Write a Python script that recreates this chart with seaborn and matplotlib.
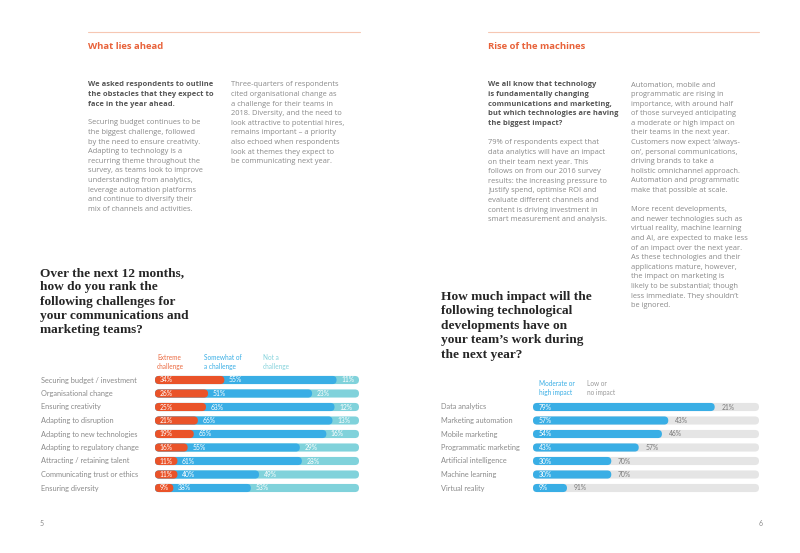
import numpy as np
import pandas as pd
import seaborn as sns
import matplotlib.pyplot as plt
import matplotlib.transforms as mtransforms
from matplotlib.patches import FancyBboxPatch

# ---- data ----
challenges = ["Securing budget / investment", "Organisational change", "Ensuring creativity",
              "Adapting to disruption", "Adapting to new technologies",
              "Adapting to regulatory change", "Attracting / retaining talent",
              "Communicating trust or ethics", "Ensuring diversity"]
extreme = [34, 26, 25, 21, 19, 16, 11, 11, 9]
somewhat = [55, 51, 63, 66, 65, 55, 61, 40, 38]
not_challenge = [11, 23, 12, 13, 16, 29, 28, 49, 53]

technologies = ["Data analytics", "Marketing automation", "Mobile marketing",
                "Programmatic marketing", "Artificial intelligence", "Machine learning",
                "Virtual reality"]
high_impact = [79, 57, 54, 43, 30, 30, 9]
low_impact = [21, 43, 46, 57, 70, 70, 91]

ORANGE = "#EA5329"
BLUE = "#39AEE5"
TEAL = "#80D2DB"
GREY_BAR = "#E5E5E5"
BODY = "#8A8A8A"
DARK = "#555555"
HEAD = "#262626"
TITLE = "#E8623A"

sns.set_theme(style="white")
plt.rcParams["font.family"] = ["Lato", "DejaVu Sans"]
BODY_FONT = ["Open Sans", "DejaVu Sans"]

W, H = 800, 553
fig = plt.figure(figsize=(8, 5.53), dpi=100)
fig.patch.set_facecolor("white")


def put(x, y, s, **kw):
    fig.text(x / W, 1 - y / H, s, va="center", **kw)


def para(x, y, lines, step=9.6, **kw):
    for i, line in enumerate(lines):
        if line:
            put(x, y + i * step, line, **kw)


def round_bars(ax, bar_px, extend_left=False):
    pos = ax.get_position()
    ax_w, ax_h = pos.width * W, pos.height * H
    x0, x1 = ax.get_xlim()
    y0, y1 = ax.get_ylim()
    ux = (x1 - x0) / ax_w
    uy = abs(y1 - y0) / ax_h
    r = bar_px / 2 * ux
    asp = (bar_px / 2 * uy) / r
    for p in list(ax.patches):
        x, y, w, h = p.get_x(), p.get_y(), p.get_width(), p.get_height()
        fc = p.get_facecolor()
        p.remove()
        if extend_left:
            w += x - x0
            x = x0
        ax.add_patch(FancyBboxPatch((x, y), w, h, mutation_aspect=asp,
                                    boxstyle=f"round,pad=0,rounding_size={r}",
                                    fc=fc, ec="none"))


# ---- header rules and section titles ----
for xa, xb in [(88, 360), (488, 759)]:
    fig.add_artist(plt.Line2D([xa / W, xb / W], [1 - 32 / H] * 2, color="#F6C7B3", lw=0.8))
put(88, 47, "What lies ahead", color=TITLE, fontsize=6.8, fontweight="bold", family=BODY_FONT)
put(488, 47, "Rise of the machines", color=TITLE, fontsize=6.8, fontweight="bold", family=BODY_FONT)

fs = 5.4
txt = dict(color=BODY, fontsize=fs, family=BODY_FONT)
bold = dict(color=DARK, fontsize=fs, fontweight="bold", family=BODY_FONT)
para(88, 85, ["We asked respondents to outline",
              "the obstacles that they expect to",
              "face in the year ahead."], **bold)
para(88, 123, ["Securing budget continues to be",
               "the biggest challenge, followed",
               "by the need to ensure creativity.",
               "Adapting to technology is a",
               "recurring theme throughout the",
               "survey, as teams look to improve",
               "understanding from analytics,",
               "leverage automation platforms",
               "and continue to diversify their",
               "mix of channels and activities."], **txt)
para(231, 85, ["Three-quarters of respondents",
               "cited organisational change as",
               "a challenge for their teams in",
               "2018. Diversity, and the need to",
               "look attractive to potential hires,",
               "remains important \u2013 a priority",
               "also echoed when respondents",
               "look at themes they expect to",
               "be communicating next year."], **txt)

para(488, 85, ["We all know that technology",
               "is fundamentally changing",
               "communications and marketing,",
               "but which technologies are having",
               "the biggest impact?"], **bold)
para(488, 143, ["79% of respondents expect that",
                "data analytics will have an impact",
                "on their team next year. This",
                "follows on from our 2016 survey",
                "results: the increasing pressure to",
                "justify spend, optimise ROI and",
                "evaluate different channels and",
                "content is driving investment in",
                "smart measurement and analysis."], **txt)
para(631, 85, ["Automation, mobile and",
               "programmatic are rising in",
               "importance, with around half",
               "of those surveyed anticipating",
               "a moderate or high impact on",
               "their teams in the next year.",
               "Customers now expect \u2018always-",
               "on\u2019, personal communications,",
               "driving brands to take a",
               "holistic omnichannel approach.",
               "Automation and programmatic",
               "make that possible at scale.",
               "",
               "More recent developments,",
               "and newer technologies such as",
               "virtual reality, machine learning",
               "and AI, are expected to make less",
               "of an impact over the next year.",
               "As these technologies and their",
               "applications mature, however,",
               "the impact on marketing is",
               "likely to be substantial; though",
               "less immediate. They shouldn\u2019t",
               "be ignored."], **txt)

# ---- question headings ----
serif = dict(family=["Liberation Serif", "DejaVu Serif"], fontweight="bold", color=HEAD, fontsize=9.6)
para(40, 273, ["Over the next 12 months,", "how do you rank the",
               "following challenges for", "your communications and",
               "marketing teams?"], step=14.3, **serif)
para(441, 297, ["How much impact will the", "following technological",
                "developments have on", "your team\u2019s work during",
                "the next year?"], step=14.4, **serif)

# ---- legends ----
lg = dict(fontsize=4.7, linespacing=1.5)
put(157, 362, "Extreme\nchallenge", color="#EB6B42", **lg)
put(204, 362, "Somewhat of\na challenge", color=BLUE, **lg)
put(263, 362, "Not a\nchallenge", color="#86D3DC", **lg)
put(539, 388, "Moderate or\nhigh impact", color=BLUE, **lg)
put(587, 388, "Low or\nno impact", color="#9A9A9A", **lg)

# ---- left chart ----
df1 = pd.DataFrame({"challenge": challenges, "extreme": extreme,
                    "somewhat": somewhat, "not": not_challenge})
df1["c2"] = df1["extreme"] + df1["somewhat"]
df1["c3"] = df1["c2"] + df1["not"]

ax1 = fig.add_axes([155 / W, 1 - 494.75 / H, 204 / W, 121.5 / H])
sns.barplot(data=df1, x="c3", y="challenge", color=TEAL, width=0.6, orient="h", ax=ax1, saturation=1)
sns.barplot(data=df1, x="c2", y="challenge", color=BLUE, width=0.6, orient="h", ax=ax1, saturation=1)
sns.barplot(data=df1, x="extreme", y="challenge", color=ORANGE, width=0.6, orient="h", ax=ax1, saturation=1)
ax1.set_xlim(0, 100)
ax1.set_ylim(len(challenges) - 0.5, -0.5)
round_bars(ax1, 8)
ax1.axis("off")

lab_tr1 = mtransforms.blended_transform_factory(fig.transFigure, ax1.transData)
for i, row in df1.iterrows():
    ax1.text(41 / W, i, row["challenge"], transform=lab_tr1, va="center", ha="left",
             fontsize=5.3, color=BODY)
    for start, val in [(0, row["extreme"]), (row["extreme"], row["somewhat"]), (row["c2"], row["not"])]:
        ax1.text(start + 2.2, i, f"{val}%", va="center", ha="left", fontsize=4.9, color="white")

# ---- right chart ----
df2 = pd.DataFrame({"tech": technologies, "high": high_impact, "low": low_impact})
df2["total"] = df2["high"] + df2["low"]

ax2 = fig.add_axes([533 / W, 1 - 494.75 / H, 226 / W, 94.5 / H])
sns.barplot(data=df2, x="total", y="tech", color=GREY_BAR, width=0.6, orient="h", ax=ax2, saturation=1)
sns.barplot(data=df2, x="high", y="tech", color=BLUE, width=0.6, orient="h", ax=ax2, saturation=1)
ax2.set_xlim(-7.1, 100)
ax2.set_ylim(len(technologies) - 0.5, -0.5)
round_bars(ax2, 8, extend_left=True)
ax2.axis("off")

lab_tr2 = mtransforms.blended_transform_factory(fig.transFigure, ax2.transData)
for i, row in df2.iterrows():
    ax2.text(441 / W, i, row["tech"], transform=lab_tr2, va="center", ha="left",
             fontsize=5.3, color=BODY)
    ax2.text(-4.3, i, f"{row['high']}%", va="center", ha="left", fontsize=4.9, color="white")
    ax2.text(row["high"] + 3.2, i, f"{row['low']}%", va="center", ha="left", fontsize=4.9, color="#7A7A7A")

# ---- page numbers ----
put(40, 523, "5", color=BODY, fontsize=5)
put(759, 523, "6", color=BODY, fontsize=5)

fig.savefig("out.png", dpi=100, facecolor="white")
